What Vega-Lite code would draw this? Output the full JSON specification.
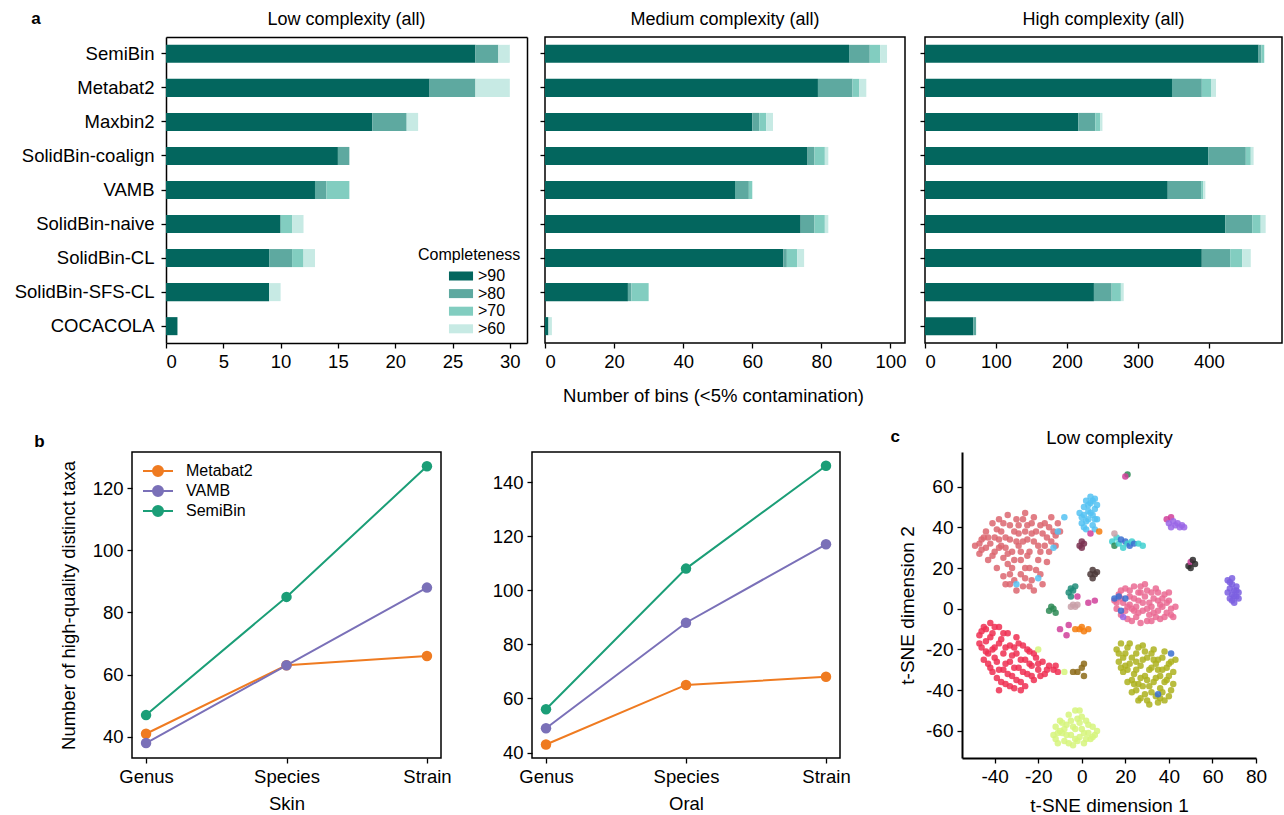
{
 "$schema": "https://vega.github.io/schema/vega-lite/v6.json",
 "padding": {"left": 14, "top": 10, "right": 0, "bottom": 4},
 "config": {
  "font": "Liberation Sans",
  "view": {"stroke": "#000000", "strokeWidth": 1.5},
  "axis": {"grid": false, "domain": false, "labelFontSize": 18.5, "labelColor": "#000", "titleFontSize": 18.5, "titleFontWeight": "normal", "titleColor": "#000", "tickColor": "#000", "tickSize": 5, "tickWidth": 1.3, "labelPadding": 4, "domainColor": "#000", "domainWidth": 1.5},
  "title": {"fontSize": 18, "fontWeight": "normal", "color": "#000"},
  "legend": {"labelFontSize": 16, "titleFontSize": 16, "titleFontWeight": "normal", "labelColor": "#000", "titleColor": "#000"}
 },
 "datasets": {
  "bins": [
   {"p":"Low","m":"SemiBin","c":">90","n":27},{"p":"Low","m":"SemiBin","c":">80","n":2},{"p":"Low","m":"SemiBin","c":">60","n":1},
   {"p":"Low","m":"Metabat2","c":">90","n":23},{"p":"Low","m":"Metabat2","c":">80","n":4},{"p":"Low","m":"Metabat2","c":">60","n":3},
   {"p":"Low","m":"Maxbin2","c":">90","n":18},{"p":"Low","m":"Maxbin2","c":">80","n":3},{"p":"Low","m":"Maxbin2","c":">60","n":1},
   {"p":"Low","m":"SolidBin-coalign","c":">90","n":15},{"p":"Low","m":"SolidBin-coalign","c":">80","n":1},
   {"p":"Low","m":"VAMB","c":">90","n":13},{"p":"Low","m":"VAMB","c":">80","n":1},{"p":"Low","m":"VAMB","c":">70","n":2},
   {"p":"Low","m":"SolidBin-naive","c":">90","n":10},{"p":"Low","m":"SolidBin-naive","c":">70","n":1},{"p":"Low","m":"SolidBin-naive","c":">60","n":1},
   {"p":"Low","m":"SolidBin-CL","c":">90","n":9},{"p":"Low","m":"SolidBin-CL","c":">80","n":2},{"p":"Low","m":"SolidBin-CL","c":">70","n":1},{"p":"Low","m":"SolidBin-CL","c":">60","n":1},
   {"p":"Low","m":"SolidBin-SFS-CL","c":">90","n":9},{"p":"Low","m":"SolidBin-SFS-CL","c":">60","n":1},
   {"p":"Low","m":"COCACOLA","c":">90","n":1},
   {"p":"Med","m":"SemiBin","c":">90","n":88},{"p":"Med","m":"SemiBin","c":">80","n":6},{"p":"Med","m":"SemiBin","c":">70","n":3},{"p":"Med","m":"SemiBin","c":">60","n":2},
   {"p":"Med","m":"Metabat2","c":">90","n":79},{"p":"Med","m":"Metabat2","c":">80","n":10},{"p":"Med","m":"Metabat2","c":">70","n":2},{"p":"Med","m":"Metabat2","c":">60","n":2},
   {"p":"Med","m":"Maxbin2","c":">90","n":60},{"p":"Med","m":"Maxbin2","c":">80","n":2},{"p":"Med","m":"Maxbin2","c":">70","n":2},{"p":"Med","m":"Maxbin2","c":">60","n":2},
   {"p":"Med","m":"SolidBin-coalign","c":">90","n":76},{"p":"Med","m":"SolidBin-coalign","c":">80","n":2},{"p":"Med","m":"SolidBin-coalign","c":">70","n":3},{"p":"Med","m":"SolidBin-coalign","c":">60","n":1},
   {"p":"Med","m":"VAMB","c":">90","n":55},{"p":"Med","m":"VAMB","c":">80","n":4},{"p":"Med","m":"VAMB","c":">70","n":1},
   {"p":"Med","m":"SolidBin-naive","c":">90","n":74},{"p":"Med","m":"SolidBin-naive","c":">80","n":4},{"p":"Med","m":"SolidBin-naive","c":">70","n":3},{"p":"Med","m":"SolidBin-naive","c":">60","n":1},
   {"p":"Med","m":"SolidBin-CL","c":">90","n":69},{"p":"Med","m":"SolidBin-CL","c":">80","n":1},{"p":"Med","m":"SolidBin-CL","c":">70","n":3},{"p":"Med","m":"SolidBin-CL","c":">60","n":2},
   {"p":"Med","m":"SolidBin-SFS-CL","c":">90","n":24},{"p":"Med","m":"SolidBin-SFS-CL","c":">80","n":1},{"p":"Med","m":"SolidBin-SFS-CL","c":">70","n":5},
   {"p":"Med","m":"COCACOLA","c":">90","n":1},{"p":"Med","m":"COCACOLA","c":">60","n":1},
   {"p":"High","m":"SemiBin","c":">90","n":470},{"p":"High","m":"SemiBin","c":">80","n":4},{"p":"High","m":"SemiBin","c":">70","n":4},
   {"p":"High","m":"Metabat2","c":">90","n":348},{"p":"High","m":"Metabat2","c":">80","n":42},{"p":"High","m":"Metabat2","c":">70","n":13},{"p":"High","m":"Metabat2","c":">60","n":7},
   {"p":"High","m":"Maxbin2","c":">90","n":216},{"p":"High","m":"Maxbin2","c":">80","n":24},{"p":"High","m":"Maxbin2","c":">70","n":7},{"p":"High","m":"Maxbin2","c":">60","n":3},
   {"p":"High","m":"SolidBin-coalign","c":">90","n":399},{"p":"High","m":"SolidBin-coalign","c":">80","n":53},{"p":"High","m":"SolidBin-coalign","c":">70","n":7},{"p":"High","m":"SolidBin-coalign","c":">60","n":4},
   {"p":"High","m":"VAMB","c":">90","n":342},{"p":"High","m":"VAMB","c":">80","n":47},{"p":"High","m":"VAMB","c":">70","n":3},{"p":"High","m":"VAMB","c":">60","n":3},
   {"p":"High","m":"SolidBin-naive","c":">90","n":423},{"p":"High","m":"SolidBin-naive","c":">80","n":38},{"p":"High","m":"SolidBin-naive","c":">70","n":12},{"p":"High","m":"SolidBin-naive","c":">60","n":7},
   {"p":"High","m":"SolidBin-CL","c":">90","n":390},{"p":"High","m":"SolidBin-CL","c":">80","n":40},{"p":"High","m":"SolidBin-CL","c":">70","n":17},{"p":"High","m":"SolidBin-CL","c":">60","n":12},
   {"p":"High","m":"SolidBin-SFS-CL","c":">90","n":238},{"p":"High","m":"SolidBin-SFS-CL","c":">80","n":25},{"p":"High","m":"SolidBin-SFS-CL","c":">70","n":13},{"p":"High","m":"SolidBin-SFS-CL","c":">60","n":4},
   {"p":"High","m":"COCACOLA","c":">90","n":68},{"p":"High","m":"COCACOLA","c":">80","n":4}
  ],
  "taxa": [
   {"s":"Skin","m":"Metabat2","lv":"Genus","v":41},{"s":"Skin","m":"Metabat2","lv":"Species","v":63},{"s":"Skin","m":"Metabat2","lv":"Strain","v":66},
   {"s":"Skin","m":"VAMB","lv":"Genus","v":38},{"s":"Skin","m":"VAMB","lv":"Species","v":63},{"s":"Skin","m":"VAMB","lv":"Strain","v":88},
   {"s":"Skin","m":"SemiBin","lv":"Genus","v":47},{"s":"Skin","m":"SemiBin","lv":"Species","v":85},{"s":"Skin","m":"SemiBin","lv":"Strain","v":127},
   {"s":"Oral","m":"Metabat2","lv":"Genus","v":43},{"s":"Oral","m":"Metabat2","lv":"Species","v":65},{"s":"Oral","m":"Metabat2","lv":"Strain","v":68},
   {"s":"Oral","m":"VAMB","lv":"Genus","v":49},{"s":"Oral","m":"VAMB","lv":"Species","v":88},{"s":"Oral","m":"VAMB","lv":"Strain","v":117},
   {"s":"Oral","m":"SemiBin","lv":"Genus","v":56},{"s":"Oral","m":"SemiBin","lv":"Species","v":108},{"s":"Oral","m":"SemiBin","lv":"Strain","v":146}
  ],
  "tsne": [
   {"x":-49,"y":31,"k":"S"},{"x":-47,"y":27,"k":"S"},{"x":-46,"y":34,"k":"S"},{"x":-44,"y":38,"k":"S"},{"x":-44,"y":30,"k":"S"},{"x":-43,"y":24,"k":"S"},{"x":-41,"y":42,"k":"S"},{"x":-40,"y":35,"k":"S"},{"x":-40,"y":28,"k":"S"},{"x":-39,"y":20,"k":"S"},{"x":-38,"y":44,"k":"S"},{"x":-37,"y":38,"k":"S"},{"x":-37,"y":31,"k":"S"},{"x":-36,"y":25,"k":"S"},{"x":-36,"y":16,"k":"S"},{"x":-35,"y":12,"k":"S"},{"x":-34,"y":46,"k":"S"},{"x":-33,"y":41,"k":"S"},{"x":-33,"y":34,"k":"S"},{"x":-32,"y":28,"k":"S"},{"x":-32,"y":20,"k":"S"},{"x":-31,"y":14,"k":"S"},{"x":-30,"y":44,"k":"S"},{"x":-29,"y":37,"k":"S"},{"x":-29,"y":31,"k":"S"},{"x":-28,"y":24,"k":"S"},{"x":-28,"y":17,"k":"S"},{"x":-27,"y":11,"k":"S"},{"x":-26,"y":47,"k":"S"},{"x":-25,"y":41,"k":"S"},{"x":-25,"y":34,"k":"S"},{"x":-24,"y":28,"k":"S"},{"x":-24,"y":20,"k":"S"},{"x":-23,"y":14,"k":"S"},{"x":-22,"y":45,"k":"S"},{"x":-21,"y":38,"k":"S"},{"x":-20,"y":31,"k":"S"},{"x":-20,"y":24,"k":"S"},{"x":-19,"y":17,"k":"S"},{"x":-18,"y":12,"k":"S"},{"x":-17,"y":42,"k":"S"},{"x":-16,"y":35,"k":"S"},{"x":-15,"y":28,"k":"S"},{"x":-14,"y":45,"k":"S"},{"x":-13,"y":38,"k":"S"},{"x":-12,"y":31,"k":"S"},{"x":-11,"y":42,"k":"S"},{"x":-22,"y":9,"k":"S"},{"x":-30,"y":9,"k":"S"},{"x":-45,"y":35,"k":"S"},{"x":-42,"y":32,"k":"S"},{"x":-35,"y":30,"k":"S"},{"x":-27,"y":33,"k":"S"},{"x":-18,"y":37,"k":"S"},{"x":-38,"y":34,"k":"S"},{"x":-31,"y":38,"k":"S"},{"x":-23,"y":37,"k":"S"},{"x":-34,"y":22,"k":"S"},{"x":-26,"y":20,"k":"S"},{"x":-47,"y":32,"k":"S"},
   {"x":-46,"y":29,"k":"S"},{"x":-43,"y":35,"k":"S"},{"x":-41,"y":26,"k":"S"},{"x":-39,"y":39,"k":"S"},{"x":-38,"y":30,"k":"S"},{"x":-36,"y":42,"k":"S"},{"x":-35,"y":35,"k":"S"},{"x":-34,"y":27,"k":"S"},{"x":-33,"y":17,"k":"S"},{"x":-31,"y":24,"k":"S"},{"x":-30,"y":33,"k":"S"},{"x":-29,"y":41,"k":"S"},{"x":-28,"y":28,"k":"S"},{"x":-27,"y":44,"k":"S"},{"x":-26,"y":38,"k":"S"},{"x":-26,"y":15,"k":"S"},{"x":-25,"y":26,"k":"S"},{"x":-23,"y":42,"k":"S"},{"x":-22,"y":33,"k":"S"},{"x":-21,"y":19,"k":"S"},{"x":-19,"y":41,"k":"S"},{"x":-19,"y":28,"k":"S"},{"x":-17,"y":31,"k":"S"},{"x":-16,"y":23,"k":"S"},{"x":-15,"y":40,"k":"S"},{"x":-14,"y":33,"k":"S"},{"x":-12,"y":36,"k":"S"},{"x":-10,"y":38,"k":"S"},{"x":-24,"y":11,"k":"S"},{"x":-33,"y":12,"k":"S"},
   {"x":0,"y":42,"k":"B"},{"x":1,"y":46,"k":"B"},{"x":1,"y":50,"k":"B"},{"x":2,"y":39,"k":"B"},{"x":3,"y":44,"k":"B"},{"x":3,"y":48,"k":"B"},{"x":4,"y":52,"k":"B"},{"x":5,"y":41,"k":"B"},{"x":5,"y":46,"k":"B"},{"x":6,"y":49,"k":"B"},{"x":7,"y":44,"k":"B"},{"x":7,"y":51,"k":"B"},{"x":4,"y":55,"k":"B"},{"x":-1,"y":47,"k":"B"},{"x":2,"y":53,"k":"B"},{"x":6,"y":39,"k":"B"},{"x":0,"y":45,"k":"B"},{"x":2,"y":43,"k":"B"},{"x":4,"y":47,"k":"B"},{"x":6,"y":44,"k":"B"},{"x":3,"y":51,"k":"B"},{"x":5,"y":53,"k":"B"},{"x":1,"y":40,"k":"B"},{"x":6,"y":54,"k":"B"},{"x":-8,"y":45,"k":"B"},{"x":-11,"y":38,"k":"B"},{"x":-13,"y":30,"k":"B"},{"x":-30,"y":12,"k":"B"},{"x":-20,"y":15,"k":"B"},
   {"x":15,"y":4,"k":"P"},{"x":16,"y":0,"k":"P"},{"x":17,"y":7,"k":"P"},{"x":18,"y":-3,"k":"P"},{"x":19,"y":3,"k":"P"},{"x":20,"y":10,"k":"P"},{"x":21,"y":-5,"k":"P"},{"x":22,"y":6,"k":"P"},{"x":23,"y":0,"k":"P"},{"x":24,"y":11,"k":"P"},{"x":25,"y":-4,"k":"P"},{"x":26,"y":4,"k":"P"},{"x":27,"y":8,"k":"P"},{"x":28,"y":-1,"k":"P"},{"x":29,"y":12,"k":"P"},{"x":30,"y":-6,"k":"P"},{"x":31,"y":3,"k":"P"},{"x":32,"y":8,"k":"P"},{"x":33,"y":-2,"k":"P"},{"x":34,"y":10,"k":"P"},{"x":35,"y":4,"k":"P"},{"x":36,"y":-5,"k":"P"},{"x":37,"y":1,"k":"P"},{"x":38,"y":7,"k":"P"},{"x":39,"y":-2,"k":"P"},{"x":40,"y":4,"k":"P"},{"x":41,"y":0,"k":"P"},{"x":42,"y":-4,"k":"P"},{"x":25,"y":1,"k":"P"},{"x":30,"y":0,"k":"P"},{"x":21,"y":1,"k":"P"},{"x":35,"y":-1,"k":"P"},{"x":33,"y":5,"k":"P"},{"x":27,"y":-7,"k":"P"},{"x":29,"y":6,"k":"P"},{"x":24,"y":-1,"k":"P"},{"x":18,"y":9,"k":"P"},
   {"x":16,"y":3,"k":"P"},{"x":18,"y":5,"k":"P"},{"x":20,"y":-1,"k":"P"},{"x":22,"y":9,"k":"P"},{"x":23,"y":-6,"k":"P"},{"x":24,"y":5,"k":"P"},{"x":26,"y":-2,"k":"P"},{"x":27,"y":11,"k":"P"},{"x":28,"y":3,"k":"P"},{"x":30,"y":9,"k":"P"},{"x":31,"y":-3,"k":"P"},{"x":32,"y":1,"k":"P"},{"x":34,"y":-4,"k":"P"},{"x":35,"y":8,"k":"P"},{"x":36,"y":2,"k":"P"},{"x":38,"y":-4,"k":"P"},{"x":39,"y":3,"k":"P"},{"x":40,"y":8,"k":"P"},{"x":41,"y":-3,"k":"P"},{"x":43,"y":1,"k":"P"},{"x":26,"y":8,"k":"P"},{"x":32,"y":-6,"k":"P"},{"x":22,"y":2,"k":"P"},{"x":37,"y":5,"k":"P"},
   {"x":15,"y":5,"k":"N"},{"x":17,"y":6,"k":"N"},{"x":20,"y":5,"k":"N"},{"x":18,"y":-1,"k":"N"},{"x":19,"y":-4,"k":"W"},
   {"x":16,"y":-20,"k":"O"},{"x":17,"y":-26,"k":"O"},{"x":18,"y":-17,"k":"O"},{"x":19,"y":-31,"k":"O"},{"x":20,"y":-22,"k":"O"},{"x":21,"y":-36,"k":"O"},{"x":22,"y":-27,"k":"O"},{"x":22,"y":-17,"k":"O"},{"x":23,"y":-41,"k":"O"},{"x":24,"y":-32,"k":"O"},{"x":25,"y":-22,"k":"O"},{"x":26,"y":-45,"k":"O"},{"x":26,"y":-37,"k":"O"},{"x":27,"y":-28,"k":"O"},{"x":28,"y":-18,"k":"O"},{"x":29,"y":-42,"k":"O"},{"x":29,"y":-33,"k":"O"},{"x":30,"y":-24,"k":"O"},{"x":31,"y":-47,"k":"O"},{"x":31,"y":-38,"k":"O"},{"x":32,"y":-29,"k":"O"},{"x":33,"y":-20,"k":"O"},{"x":34,"y":-43,"k":"O"},{"x":34,"y":-34,"k":"O"},{"x":35,"y":-25,"k":"O"},{"x":36,"y":-39,"k":"O"},{"x":37,"y":-30,"k":"O"},{"x":38,"y":-21,"k":"O"},{"x":38,"y":-45,"k":"O"},{"x":39,"y":-35,"k":"O"},{"x":40,"y":-27,"k":"O"},{"x":41,"y":-40,"k":"O"},{"x":42,"y":-31,"k":"O"},{"x":43,"y":-25,"k":"O"},{"x":25,"y":-26,"k":"O"},{"x":30,"y":-35,"k":"O"},{"x":35,"y":-30,"k":"O"},{"x":28,"y":-38,"k":"O"},{"x":24,"y":-37,"k":"O"},{"x":33,"y":-25,"k":"O"},{"x":36,"y":-44,"k":"O"},{"x":20,"y":-28,"k":"O"},
   {"x":17,"y":-22,"k":"O"},{"x":18,"y":-29,"k":"O"},{"x":19,"y":-24,"k":"O"},{"x":21,"y":-19,"k":"O"},{"x":21,"y":-30,"k":"O"},{"x":23,"y":-24,"k":"O"},{"x":23,"y":-35,"k":"O"},{"x":25,"y":-30,"k":"O"},{"x":25,"y":-40,"k":"O"},{"x":26,"y":-19,"k":"O"},{"x":27,"y":-34,"k":"O"},{"x":27,"y":-44,"k":"O"},{"x":28,"y":-25,"k":"O"},{"x":29,"y":-21,"k":"O"},{"x":30,"y":-45,"k":"O"},{"x":31,"y":-30,"k":"O"},{"x":32,"y":-41,"k":"O"},{"x":32,"y":-22,"k":"O"},{"x":33,"y":-36,"k":"O"},{"x":34,"y":-27,"k":"O"},{"x":35,"y":-46,"k":"O"},{"x":36,"y":-33,"k":"O"},{"x":37,"y":-24,"k":"O"},{"x":37,"y":-41,"k":"O"},{"x":38,"y":-36,"k":"O"},{"x":39,"y":-29,"k":"O"},{"x":40,"y":-33,"k":"O"},{"x":40,"y":-43,"k":"O"},{"x":41,"y":-26,"k":"O"},{"x":42,"y":-37,"k":"O"},
   {"x":-47,"y":-13,"k":"R"},{"x":-46,"y":-19,"k":"R"},{"x":-45,"y":-25,"k":"R"},{"x":-45,"y":-9,"k":"R"},{"x":-44,"y":-16,"k":"R"},{"x":-43,"y":-22,"k":"R"},{"x":-42,"y":-7,"k":"R"},{"x":-42,"y":-29,"k":"R"},{"x":-41,"y":-12,"k":"R"},{"x":-40,"y":-19,"k":"R"},{"x":-39,"y":-26,"k":"R"},{"x":-39,"y":-34,"k":"R"},{"x":-38,"y":-9,"k":"R"},{"x":-37,"y":-15,"k":"R"},{"x":-36,"y":-22,"k":"R"},{"x":-36,"y":-30,"k":"R"},{"x":-35,"y":-37,"k":"R"},{"x":-34,"y":-12,"k":"R"},{"x":-33,"y":-18,"k":"R"},{"x":-33,"y":-26,"k":"R"},{"x":-32,"y":-33,"k":"R"},{"x":-31,"y":-39,"k":"R"},{"x":-30,"y":-14,"k":"R"},{"x":-30,"y":-22,"k":"R"},{"x":-29,"y":-29,"k":"R"},{"x":-28,"y":-36,"k":"R"},{"x":-27,"y":-18,"k":"R"},{"x":-26,"y":-25,"k":"R"},{"x":-25,"y":-32,"k":"R"},{"x":-24,"y":-21,"k":"R"},{"x":-23,"y":-28,"k":"R"},{"x":-22,"y":-35,"k":"R"},{"x":-21,"y":-24,"k":"R"},{"x":-20,"y":-30,"k":"R"},{"x":-18,"y":-26,"k":"R"},{"x":-17,"y":-32,"k":"R"},{"x":-15,"y":-28,"k":"R"},{"x":-13,"y":-30,"k":"R"},{"x":-11,"y":-31,"k":"R"},{"x":-28,"y":-40,"k":"R"},{"x":-44,"y":-10,"k":"R"},{"x":-38,"y":-40,"k":"R"},{"x":-41,"y":-20,"k":"R"},{"x":-35,"y":-27,"k":"R"},{"x":-31,"y":-19,"k":"R"},
   {"x":-47,"y":-17,"k":"R"},{"x":-46,"y":-11,"k":"R"},{"x":-44,"y":-21,"k":"R"},{"x":-43,"y":-27,"k":"R"},{"x":-42,"y":-14,"k":"R"},{"x":-41,"y":-31,"k":"R"},{"x":-40,"y":-9,"k":"R"},{"x":-40,"y":-24,"k":"R"},{"x":-38,"y":-17,"k":"R"},{"x":-38,"y":-30,"k":"R"},{"x":-37,"y":-36,"k":"R"},{"x":-36,"y":-12,"k":"R"},{"x":-35,"y":-19,"k":"R"},{"x":-34,"y":-32,"k":"R"},{"x":-33,"y":-38,"k":"R"},{"x":-32,"y":-23,"k":"R"},{"x":-31,"y":-29,"k":"R"},{"x":-30,"y":-35,"k":"R"},{"x":-29,"y":-17,"k":"R"},{"x":-28,"y":-25,"k":"R"},{"x":-27,"y":-31,"k":"R"},{"x":-26,"y":-38,"k":"R"},{"x":-25,"y":-20,"k":"R"},{"x":-24,"y":-27,"k":"R"},{"x":-23,"y":-33,"k":"R"},{"x":-22,"y":-22,"k":"R"},{"x":-20,"y":-27,"k":"R"},{"x":-19,"y":-33,"k":"R"},{"x":-16,"y":-30,"k":"R"},{"x":-12,"y":-28,"k":"R"},
   {"x":-13,"y":-62,"k":"L"},{"x":-12,"y":-58,"k":"L"},{"x":-11,"y":-66,"k":"L"},{"x":-10,"y":-55,"k":"L"},{"x":-9,"y":-61,"k":"L"},{"x":-8,"y":-65,"k":"L"},{"x":-7,"y":-57,"k":"L"},{"x":-6,"y":-52,"k":"L"},{"x":-5,"y":-62,"k":"L"},{"x":-4,"y":-67,"k":"L"},{"x":-4,"y":-58,"k":"L"},{"x":-3,"y":-50,"k":"L"},{"x":-2,"y":-54,"k":"L"},{"x":-1,"y":-63,"k":"L"},{"x":0,"y":-59,"k":"L"},{"x":1,"y":-66,"k":"L"},{"x":2,"y":-55,"k":"L"},{"x":3,"y":-61,"k":"L"},{"x":4,"y":-64,"k":"L"},{"x":5,"y":-58,"k":"L"},{"x":6,"y":-62,"k":"L"},{"x":7,"y":-60,"k":"L"},{"x":-1,"y":-50,"k":"L"},{"x":-8,"y":-59,"k":"L"},{"x":-3,"y":-64,"k":"L"},
   {"x":-12,"y":-64,"k":"L"},{"x":-10,"y":-60,"k":"L"},{"x":-9,"y":-56,"k":"L"},{"x":-7,"y":-62,"k":"L"},{"x":-6,"y":-66,"k":"L"},{"x":-5,"y":-55,"k":"L"},{"x":-3,"y":-59,"k":"L"},{"x":-2,"y":-65,"k":"L"},{"x":-1,"y":-56,"k":"L"},{"x":1,"y":-61,"k":"L"},{"x":2,"y":-64,"k":"L"},{"x":3,"y":-57,"k":"L"},{"x":5,"y":-63,"k":"L"},{"x":-11,"y":-61,"k":"L"},{"x":0,"y":-53,"k":"L"},
   {"x":67,"y":14,"k":"V"},{"x":68,"y":10,"k":"V"},{"x":68,"y":5,"k":"V"},{"x":69,"y":12,"k":"V"},{"x":69,"y":7,"k":"V"},{"x":70,"y":3,"k":"V"},{"x":70,"y":9,"k":"V"},{"x":71,"y":6,"k":"V"},{"x":72,"y":8,"k":"V"},{"x":71,"y":11,"k":"V"},{"x":67,"y":8,"k":"V"},{"x":69,"y":15,"k":"V"},{"x":68,"y":13,"k":"V"},{"x":70,"y":6,"k":"V"},{"x":71,"y":9,"k":"V"},{"x":72,"y":5,"k":"V"},{"x":69,"y":4,"k":"V"},
   {"x":39,"y":44,"k":"Q"},{"x":40,"y":42,"k":"W"},{"x":41,"y":45,"k":"Q"},{"x":42,"y":43,"k":"W"},{"x":43,"y":41,"k":"W"},{"x":44,"y":42,"k":"W"},{"x":45,"y":40,"k":"W"},{"x":46,"y":41,"k":"W"},{"x":47,"y":40,"k":"W"},{"x":41,"y":40,"k":"W"},
   {"x":49,"y":21,"k":"K"},{"x":50,"y":23,"k":"Q"},{"x":51,"y":24,"k":"K"},{"x":50,"y":20,"k":"K"},{"x":52,"y":22,"k":"K"},
   {"x":14,"y":33,"k":"C"},{"x":15,"y":31,"k":"E"},{"x":16,"y":35,"k":"C"},{"x":17,"y":32,"k":"C"},{"x":18,"y":34,"k":"N"},{"x":19,"y":30,"k":"C"},{"x":20,"y":33,"k":"N"},{"x":21,"y":32,"k":"C"},{"x":22,"y":31,"k":"N"},{"x":23,"y":33,"k":"C"},{"x":24,"y":32,"k":"N"},{"x":26,"y":32,"k":"C"},{"x":28,"y":31,"k":"C"},{"x":15,"y":37,"k":"G"},
   {"x":-1,"y":31,"k":"M"},{"x":0,"y":33,"k":"M"},{"x":1,"y":32,"k":"M"},{"x":0,"y":30,"k":"M"},
   {"x":4,"y":17,"k":"D"},{"x":5,"y":19,"k":"D"},{"x":6,"y":17,"k":"D"},{"x":7,"y":18,"k":"D"},{"x":5,"y":15,"k":"D"},
   {"x":-6,"y":8,"k":"T"},{"x":-5,"y":10,"k":"T"},{"x":-4,"y":9,"k":"T"},{"x":-3,"y":11,"k":"T"},{"x":-5,"y":6,"k":"T"},
   {"x":-5,"y":1,"k":"G"},{"x":-4,"y":2,"k":"G"},{"x":-3,"y":1,"k":"G"},{"x":-2,"y":2,"k":"G"},
   {"x":-15,"y":-1,"k":"E"},{"x":-14,"y":1,"k":"E"},{"x":-13,"y":0,"k":"E"},{"x":-12,"y":-2,"k":"E"},
   {"x":-3,"y":-10,"k":"A"},{"x":-1,"y":-10,"k":"A"},{"x":1,"y":-11,"k":"A"},{"x":3,"y":-10,"k":"A"},{"x":0,"y":-9,"k":"A"},
   {"x":-2,"y":-31,"k":"Br"},{"x":0,"y":-29,"k":"Br"},{"x":1,"y":-27,"k":"Br"},{"x":1,"y":-33,"k":"Br"},{"x":-4,"y":-31,"k":"Br"},
   {"x":21,"y":66,"k":"E"},{"x":20,"y":65,"k":"Q"},
   {"x":-10,"y":-10,"k":"Q"},{"x":-7,"y":-13,"k":"Q"},{"x":-6,"y":-8,"k":"Q"},{"x":3,"y":3,"k":"Q"},{"x":6,"y":4,"k":"Q"},{"x":-2,"y":6,"k":"Q"},{"x":41,"y":-22,"k":"N"},{"x":35,"y":-42,"k":"N"},{"x":4,"y":37,"k":"Q"},{"x":8,"y":38,"k":"A"},{"x":-8,"y":-31,"k":"L"},{"x":-20,"y":-20,"k":"L"}
  ]
 },
 "vconcat": [
  {
   "title": {"text": "a", "anchor": "start", "fontWeight": "bold", "fontSize": 17, "dx": 17, "dy": 22},
   "spacing": 11,
   "resolve": {"scale": {"color": "independent"}, "legend": {"color": "independent"}},
   "hconcat": [
    {
     "width": 395, "height": 306,
     "view": {"stroke": null},
     "title": {"text": "Low complexity (all)", "offset": 8, "dx": 17},
     "data": {"name": "bins"},
     "transform": [{"filter": "datum.p === 'Low'"}],
     "layer": [
      {
       "mark": {"type": "bar"},
       "encoding": {
        "y": {"field": "m", "type": "nominal", "sort": ["SemiBin","Metabat2","Maxbin2","SolidBin-coalign","VAMB","SolidBin-naive","SolidBin-CL","SolidBin-SFS-CL","COCACOLA"], "scale": {"paddingInner": 0.47, "paddingOuter": 0.23}, "axis": {"title": null, "labelPadding": 7, "offset": -34, "domain": true}},
        "x": {"field": "n", "type": "quantitative", "stack": "zero", "scale": {"domain": [0, 31.5], "nice": false, "range": [34, 395]}, "axis": {"values": [0,5,10,15,20,25,30], "title": null, "domain": true}},
        "color": {"field": "c", "type": "nominal", "scale": {"domain": [">90",">80",">70",">60"], "range": ["#03665e","#5ea9a0","#82cdc0","#c7eae4"]},
         "legend": {"orient": "bottom-right", "offset": 6, "title": "Completeness", "symbolType": "M-1.39,-0.52H1.39V0.52H-1.39Z", "symbolSize": 300, "symbolStrokeWidth": 0, "rowPadding": 0.6, "symbolOffset": 34, "labelOffset": 8, "titlePadding": 4}},
        "order": {"field": "c", "sort": "descending"}
       }
      },
      {
       "transform": [{"filter": "false"}],
       "mark": {"type": "bar"},
       "encoding": {
        "y": {"field": "m", "type": "nominal", "sort": ["SemiBin","Metabat2","Maxbin2","SolidBin-coalign","VAMB","SolidBin-naive","SolidBin-CL","SolidBin-SFS-CL","COCACOLA"], "axis": {"orient": "right", "title": null, "labels": false, "ticks": false, "domain": true}},
        "x": {"field": "n", "type": "quantitative", "axis": {"orient": "top", "title": null, "labels": false, "ticks": false, "domain": true}}
       }
      }
     ],
     "resolve": {"axis": {"x": "independent", "y": "independent"}}
    },
    {
     "width": 360, "height": 306,
     "title": {"text": "Medium complexity (all)", "offset": 8},
     "data": {"name": "bins"},
     "transform": [{"filter": "datum.p === 'Med'"}],
     "mark": {"type": "bar"},
     "encoding": {
      "y": {"field": "m", "type": "nominal", "sort": ["SemiBin","Metabat2","Maxbin2","SolidBin-coalign","VAMB","SolidBin-naive","SolidBin-CL","SolidBin-SFS-CL","COCACOLA"], "scale": {"paddingInner": 0.47, "paddingOuter": 0.23}, "axis": {"title": null, "labels": false}},
      "x": {"field": "n", "type": "quantitative", "stack": "zero", "scale": {"domain": [0, 104.2], "nice": false}, "axis": {"values": [0,20,40,60,80,100], "title": "Number of bins (<5% contamination)", "titleX": 168, "titlePadding": 16}},
      "color": {"field": "c", "type": "nominal", "scale": {"domain": [">90",">80",">70",">60"], "range": ["#03665e","#5ea9a0","#82cdc0","#c7eae4"]}, "legend": null},
      "order": {"field": "c", "sort": "descending"}
     }
    },
    {
     "width": 357, "height": 306,
     "title": {"text": "High complexity (all)", "offset": 8},
     "data": {"name": "bins"},
     "transform": [{"filter": "datum.p === 'High'"}],
     "mark": {"type": "bar"},
     "encoding": {
      "y": {"field": "m", "type": "nominal", "sort": ["SemiBin","Metabat2","Maxbin2","SolidBin-coalign","VAMB","SolidBin-naive","SolidBin-CL","SolidBin-SFS-CL","COCACOLA"], "scale": {"paddingInner": 0.47, "paddingOuter": 0.23}, "axis": {"title": null, "labels": false}},
      "x": {"field": "n", "type": "quantitative", "stack": "zero", "scale": {"domain": [0, 503], "nice": false}, "axis": {"values": [0,100,200,300,400], "title": null}},
      "color": {"field": "c", "type": "nominal", "scale": {"domain": [">90",">80",">70",">60"], "range": ["#03665e","#5ea9a0","#82cdc0","#c7eae4"]}, "legend": null},
      "order": {"field": "c", "sort": "descending"}
     }
    }
   ]
  },
  {
   "spacing": 39,
   "resolve": {"scale": {"color": "independent"}, "legend": {"color": "independent"}},
   "hconcat": [
    {
     "width": 309, "height": 306,
     "title": {"text": "b", "anchor": "start", "fontWeight": "bold", "fontSize": 17, "dx": -25, "offset": 1},
     "data": {"name": "taxa"},
     "transform": [{"filter": "datum.s === 'Skin'"}],
     "encoding": {
      "x": {"field": "lv", "type": "ordinal", "sort": ["Genus","Species","Strain"], "scale": {"type": "point", "padding": 0.1}, "axis": {"labelAngle": 0, "title": "Skin", "titlePadding": 9}},
      "y": {"field": "v", "type": "quantitative", "scale": {"domain": [33.2, 131.6], "nice": false, "zero": false}, "axis": {"values": [40,60,80,100,120], "title": "Number of high-quality distinct taxa", "titlePadding": 14}},
      "color": {"field": "m", "type": "nominal", "scale": {"domain": ["Metabat2","VAMB","SemiBin"], "range": ["#ef7b21","#7a70b8","#1b9e77"]},
       "legend": {"orient": "top-left", "title": null, "offset": 8, "symbolType": "M-1.5,0H1.5M0.5,0A0.5,0.5,0,1,1,-0.5,0A0.5,0.5,0,1,1,0.5,0Z", "symbolSize": 400, "rowPadding": 0, "labelFontSize": 16, "labelOffset": 17, "symbolOffset": 7, "symbolStrokeWidth": 2,
        "encode": {"symbols": {"update": {"stroke": {"signal": "datum.value === 'Metabat2' ? '#ef7b21' : datum.value === 'VAMB' ? '#7a70b8' : '#1b9e77'"}, "fill": {"signal": "datum.value === 'Metabat2' ? '#ef7b21' : datum.value === 'VAMB' ? '#7a70b8' : '#1b9e77'"}, "strokeWidth": {"value": 2}, "opacity": {"value": 1}}}}}}
     },
     "layer": [
      {"mark": {"type": "line", "strokeWidth": 2}, "encoding": {}},
      {"mark": {"type": "circle", "size": 110, "opacity": 1}, "encoding": {}}
     ]
    },
    {
     "width": 308, "height": 306,
     "data": {"name": "taxa"},
     "transform": [{"filter": "datum.s === 'Oral'"}],
     "encoding": {
      "x": {"field": "lv", "type": "ordinal", "sort": ["Genus","Species","Strain"], "scale": {"type": "point", "padding": 0.1}, "axis": {"labelAngle": 0, "title": "Oral", "titlePadding": 9}},
      "y": {"field": "v", "type": "quantitative", "scale": {"domain": [38, 151.1], "nice": false, "zero": false}, "axis": {"values": [40,60,80,100,120,140], "title": null}},
      "color": {"field": "m", "type": "nominal", "scale": {"domain": ["Metabat2","VAMB","SemiBin"], "range": ["#ef7b21","#7a70b8","#1b9e77"]}, "legend": null}
     },
     "layer": [
      {"mark": {"type": "line", "strokeWidth": 2}, "encoding": {}},
      {"mark": {"type": "circle", "size": 110, "opacity": 1}, "encoding": {}}
     ]
    },
    {
     "width": 294, "height": 306,
     "title": {"text": "c", "anchor": "start", "fontWeight": "bold", "fontSize": 17, "dx": -8, "dy": 22},
     "view": {"stroke": null},
     "data": {"name": "tsne"},
     "layer": [
      {
       "mark": {"type": "circle", "size": 42, "opacity": 0.85},
       "encoding": {
        "x": {"field": "x", "type": "quantitative", "scale": {"domain": [-55, 80], "nice": false, "zero": false}, "axis": {"values": [-40,-20,0,20,40,60,80], "labelExpr": "'' + datum.value", "labelFlush": false, "labelFontSize": 19, "titleFontSize": 19, "title": "t-SNE dimension 1", "titlePadding": 10, "domain": true, "domainWidth": 2}},
        "y": {"field": "y", "type": "quantitative", "scale": {"domain": [-73.3, 77], "nice": false, "zero": false}, "axis": {"values": [-60,-40,-20,0,20,40,60], "labelExpr": "'' + datum.value", "labelFlush": false, "labelFontSize": 19, "titleFontSize": 19, "title": "t-SNE dimension 2", "titlePadding": 8, "domain": true, "domainWidth": 2}},
        "color": {"field": "k", "type": "nominal", "scale": {"domain": ["S","B","P","O","R","L","V","W","K","C","N","M","D","T","G","E","A","Br","Q"], "range": ["#dc6670","#55c2f2","#ea6a93","#adb11e","#ee2f52","#d6f47c","#7b5fe0","#9a66e6","#2b2b2b","#40d0d0","#3a6ed0","#7a3050","#4b3838","#1e8c78","#c9a0a8","#2d8a55","#f47c0e","#8c6a18","#d0409a"]}, "legend": null}
       }
      },
      {
       "transform": [{"filter": "false"}],
       "mark": {"type": "circle"},
       "encoding": {
        "x": {"field": "x", "type": "quantitative", "axis": {"orient": "top", "title": "Low complexity", "titleFontSize": 18.5, "titlePadding": 5, "labels": false, "ticks": false, "domain": false}},
        "y": {"field": "y", "type": "quantitative", "axis": null}
       }
      }
     ],
     "resolve": {"axis": {"x": "independent", "y": "independent"}}
    }
   ]
  }
 ],
 "spacing": 22,
 "resolve": {"scale": {"color": "independent"}, "legend": {"color": "independent"}}
}
